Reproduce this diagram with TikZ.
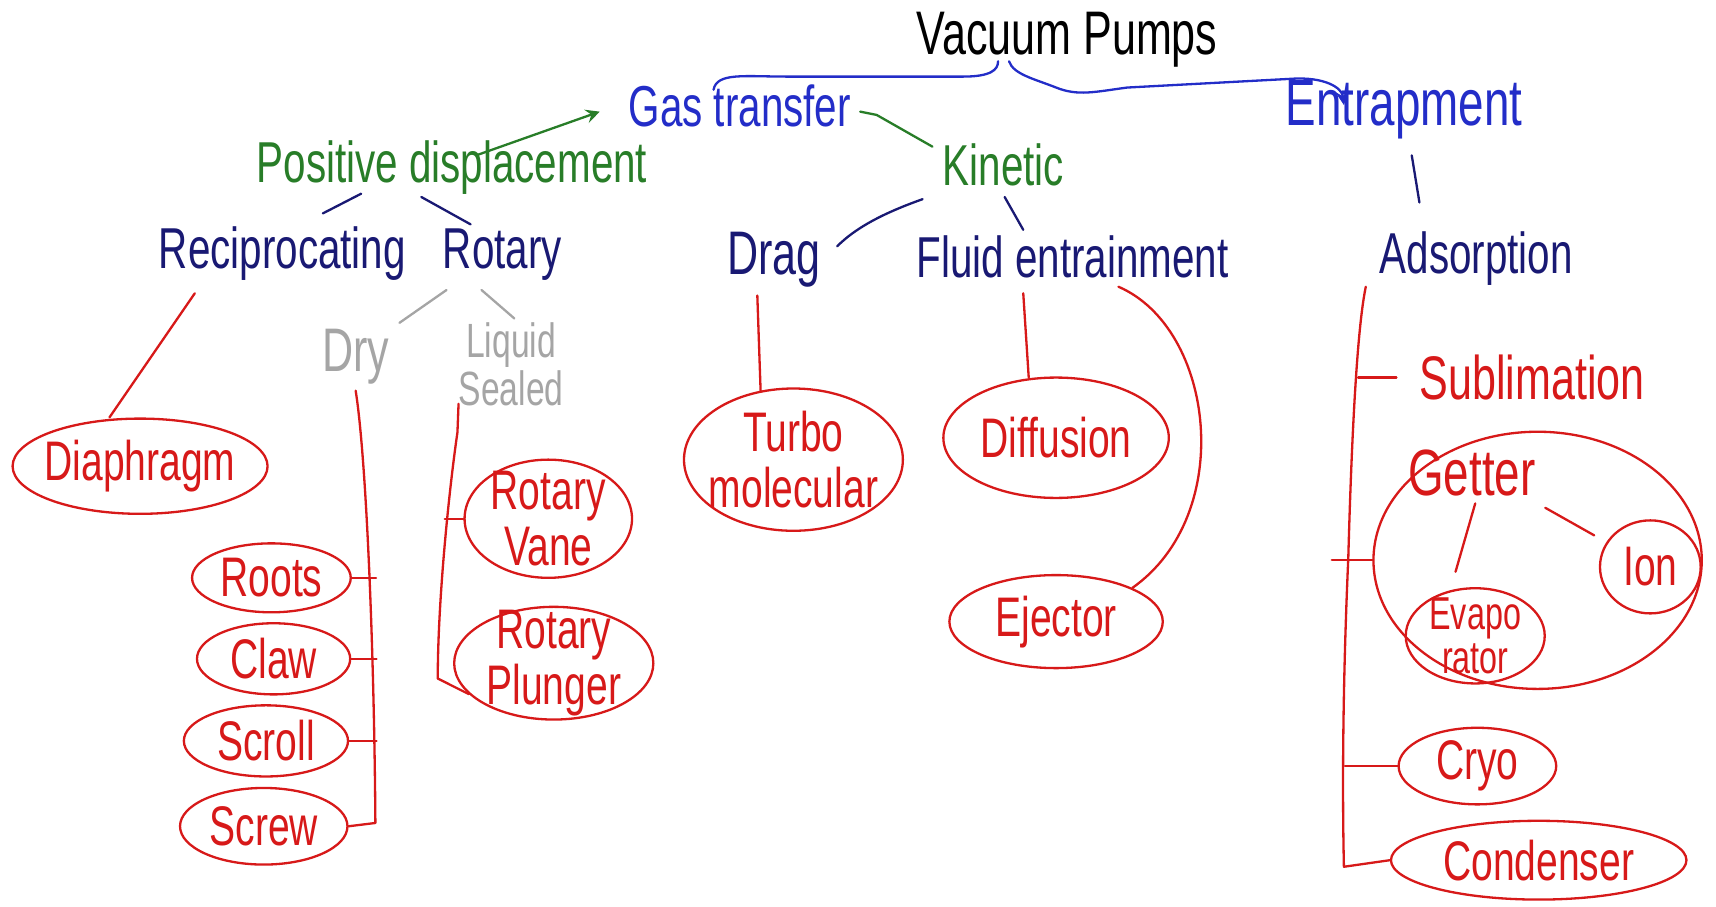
\documentclass[tikz,border=0pt]{standalone}
\usepackage{fontspec}
\setmainfont{Liberation Sans}[FakeStretch=0.7]
\usepackage{tikz}
\usetikzlibrary{calc, arrows, positioning, shapes.geometric}

\definecolor{penblue}{RGB}{35,45,200}
\definecolor{pennavy}{RGB}{25,25,115}
\definecolor{pengreen}{RGB}{40,125,40}
\definecolor{penred}{RGB}{215,25,25}
\definecolor{pengray}{RGB}{165,165,165}

\newcommand{\penfont}[2]{\fontsize{#1}{#2}\selectfont\lineskiplimit=-20pt}

\begin{document}
\begin{tikzpicture}[x = 0.1mm, y = -0.1mm,
	ink/.style = {line width = 0.6pt, line cap = round, line join = round},
	word/.style = {inner sep = 1pt, font = \penfont{15}{17}},
	pumpword/.style = {text = penred, align = center, font = \penfont{14.5}{14.5}},
	pump/.style 2 args = {ellipse, draw = penred, ink, inner sep = 0pt,
		minimum width = #1, minimum height = #2}]
			\useasboundingbox (0,0) rectangle (1568,828);
			% headings
			\node[word, text = black, font = \penfont{16}{18}] (vac) at (975,36){Vacuum Pumps};
			\node[word, text = penblue] (gas) at (676,97){Gas transfer};
			\node[word, text = penblue, font = \penfont{17}{19}] (entrap) at (1283,100){Entrapment};
			\node[word, text = pengreen] (posdisp) at (413,153){Positive displacement};
			\node[word, text = pengreen] (kinetic) at (917,151){Kinetic};
			\node[word, text = pennavy] (recip) at (258,232){Reciprocating};
			\node[word, text = pennavy] (rotary) at (459,233){Rotary};
			\node[word, text = pennavy, font = \penfont{16}{18}] (drag) at (707,237){Drag};
			\node[word, text = pennavy] (fluid) at (980,235){Fluid entrainment};
			\node[word, text = pennavy] (adsorp) at (1349,236){Adsorption};
			\node[word, text = pengray, font = \penfont{16}{18}] (dry) at (325,326){Dry};
			\node[word, text = pengray, align = center, font = \penfont{12.5}{12.5}] (liquid) at (467,333){Liquid\\Sealed};
			\node[word, text = penred, font = \penfont{16}{18}] (sublim) at (1400,345){Sublimation};
			% pumps
			\node[pump = {23.3mm}{8.7mm}, label = {[pumpword]center:Diaphragm}] (diaphragm) at (128,426){};
			\node[pump = {14.5mm}{6.3mm}, label = {[pumpword]center:Roots}] (roots) at (248,528){};
			\node[pump = {14mm}{6.5mm}, label = {[pumpword]center:Claw}] (claw) at (250,602){};
			\node[pump = {15mm}{6.5mm}, label = {[pumpword]center:Scroll}] (scroll) at (243,677){};
			\node[pump = {15.3mm}{7mm}, label = {[pumpword]center:Screw}] (screw) at (241,755){};
			\node[pump = {15.3mm}{10.8mm}, label = {[pumpword]center:Rotary\\Vane}] (vane) at (501,474){};
			\node[pump = {18.2mm}{10.3mm}, label = {[pumpword]center:Rotary\\Plunger}] (plunger) at (506,606){};
			\node[pump = {20mm}{13mm}, label = {[pumpword]center:Turbo\\molecular}] (turbo) at (725,420){};
			\node[pump = {20.6mm}{11mm}, label = {[pumpword]center:Diffusion}] (diffusion) at (965,400){};
			\node[pump = {19.5mm}{8.5mm}, label = {[pumpword]center:Ejector}] (ejector) at (965,568){};
			\node[pump = {30mm}{23.5mm}] (gzone) at (1405,512){};
			\node[word, text = penred, font = \penfont{17}{19}] (getter) at (1345,432){Getter};
			\node[pump = {12.7mm}{8.7mm}, label = {[pumpword, font = \penfont{12}{11.5}]center:Evapo\\rator}] (evapo) at (1348,581){};
			\node[pump = {9.2mm}{8.5mm}, label = {[pumpword]center:Ion}] (ion) at (1508,518){};
			\node[pump = {14.4mm}{7mm}, label = {[pumpword]center:Cryo}] (cryo) at (1350,700){};
			\node[pump = {27mm}{7.2mm}, label = {[pumpword]center:Condenser}] (condenser) at (1406,786){};
			% brace
			\draw[ink, penblue] ($(gas)+(-24,-15)$) .. controls (655,66) and (680,70) .. (720,70)
			-- (880,70) .. controls (905,70) and (912,64) .. ($(vac)+(-63,20)$);
			\draw[ink, penblue, -stealth] ($(vac)+(-53,20)$) .. controls (926,68) and (945,72) .. (965,80)
			.. controls (985,88) and (1000,84) .. (1030,80) -- (1180,72)
			.. controls (1210,70) and (1226,80) .. ($(entrap)+(-55,-4)$);
			% green
			\draw[ink, pengreen, -stealth] ($(posdisp)+(22,-11)$) -- ($(gas)+(-128,5)$);
			\draw[ink, pengreen] ($(gas)+(110,5)$) -- ($(gas)+(125,8)$) -- ($(kinetic)+(-65,-17)$);
			% navy
			\draw[ink, pennavy] ($(posdisp)+(-83,24)$) -- ($(recip)+(37,-37)$);
			\draw[ink, pennavy] ($(posdisp)+(-28,27)$) -- ($(rotary)+(-29,-28)$);
			\draw[ink, pennavy] ($(kinetic)+(-74,31)$) .. controls (815,192) and (785,205) .. ($(drag)+(58,-12)$);
			\draw[ink, pennavy] ($(kinetic)+(1,29)$) -- ($(fluid)+(-45,-25)$);
			\draw[ink, pennavy] ($(entrap)+(7,42)$) -- ($(adsorp)+(-52,-51)$);
			% gray
			\draw[ink, pengray] ($(rotary)+(-51,32)$) -- ($(dry)+(40,-31)$);
			\draw[ink, pengray] ($(rotary)+(-19,32)$) -- ($(liquid)+(3,-42)$);
			% red
			\draw[ink, penred] ($(recip)+(-80,36)$) -- ($(diaphragm.north)+(-28,0)$);
			\draw[ink, penred] ($(dry)+(0,31)$) .. controls (335,420) and (342,600) .. (343,752) -- (screw.east);
			\draw[ink, penred] (roots.east) -- ++(22,0);
			\draw[ink, penred] (claw.east) -- ++(23,0);
			\draw[ink, penred] (scroll.east) -- ++(25,0);
			\draw[ink, penred] ($(liquid)+(-48,36)$) -- (418,395) .. controls (410,450) and (400,550) .. (400,620) -- (plunger.200);
			\draw[ink, penred] (vane.west) -- ++(-17,0);
			\draw[ink, penred] ($(drag)+(-15,33)$) -- ($(turbo.north)+(-30,3)$);
			\draw[ink, penred] ($(fluid)+(-45,33)$) -- ($(diffusion.north)+(-25,1)$);
			\draw[ink, penred] ($(fluid)+(42,27)$) .. controls (1110,300) and (1130,470) .. (ejector.north east);
			\draw[ink, penred] ($(adsorp)+(-101,26)$) .. controls (1240,300) and (1235,400) .. (1232,510)
			.. controls (1228,600) and (1226,700) .. (1228,792) -- (condenser.west);
			\draw[ink, penred] ($(sublim.west)+(-17,0)$) -- ++(-35,0);
			\draw[ink, penred] (gzone.west) -- ++(-37,0);
			\draw[ink, penred] (cryo.west) -- ++(-48,0);
			\draw[ink, penred] ($(getter)+(3,28)$) -- ($(evapo.north)+(-18,-14)$);
			\draw[ink, penred] ($(ion.north west)+(-18,2)$) -- ($(getter)+(67,32)$);
		\end{tikzpicture}
\end{document}
